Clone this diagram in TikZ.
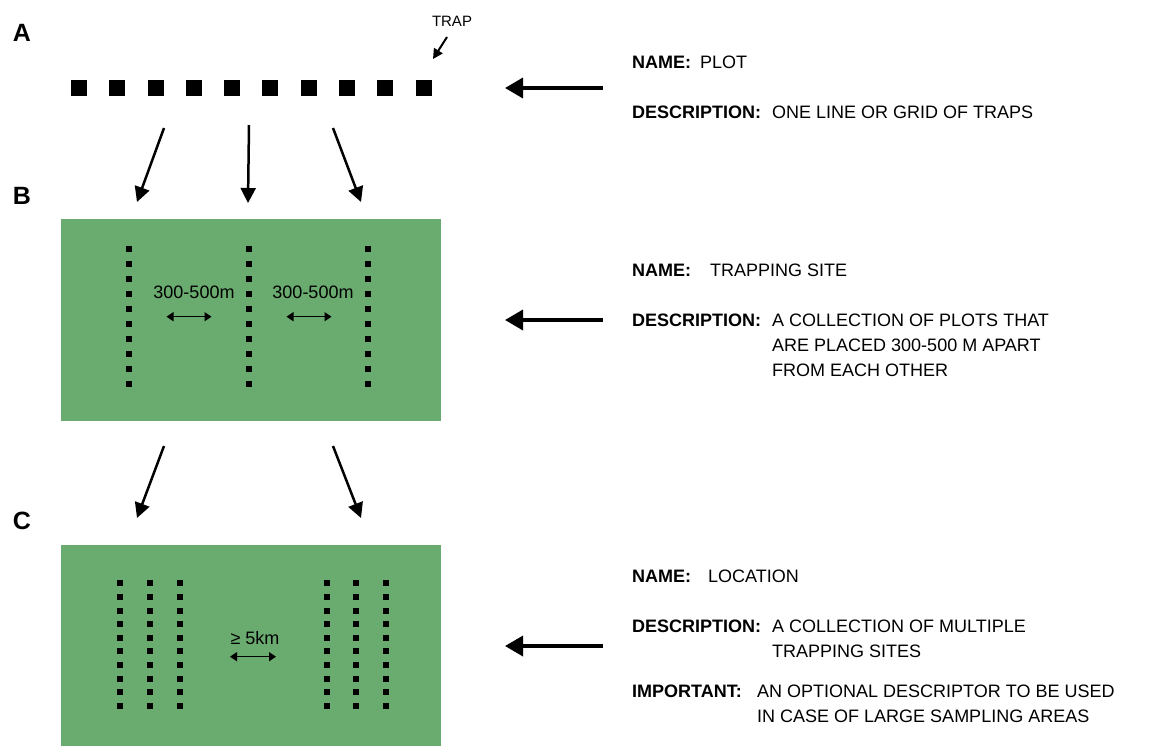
\documentclass[tikz,border=0pt]{standalone}
\usepackage{fontspec}
\setmainfont{Liberation Sans}
\usetikzlibrary{arrows.meta}
\definecolor{fieldgreen}{RGB}{106,171,111}
\begin{document}
\begin{tikzpicture}[x=1pt,y=-1pt,
  lbl/.style={font=\bfseries\fontsize{25}{28}\selectfont, inner sep=0},
  key/.style={anchor=base west, inner sep=0, font=\bfseries\fontsize{18}{20}\selectfont},
  val/.style={anchor=base west, inner sep=0, font=\fontsize{18}{20}\selectfont},
  trapA/.style={fill=black, minimum size=16pt, inner sep=0},
  flow/.style={line width=2.5pt, -{Triangle[length=15pt,width=15pt]}},
  point/.style={line width=3.5pt, -{Triangle[length=18pt,width=20pt]}},
  span/.style={line width=1.5pt, {Triangle[length=7pt,width=9pt]}-{Triangle[length=7pt,width=9pt]}},
  dist/.style={inner sep=0, font=\fontsize{18}{20}\selectfont},
  fieldbox/.style={fill=fieldgreen, draw=none, inner sep=0, anchor=north west}
]
\useasboundingbox (0,0) rectangle (1165,745);

% section labels
\node[lbl] (labA) at (22,33) {A};
\node[lbl] (labB) at (22,196) {B};
\node[lbl] (labC) at (22,521) {C};

% A: plot of traps
\foreach \i in {0,...,9} \node[trapA] (t\i) at (79+38.28*\i, 88) {};
\node[inner sep=0, font=\fontsize{15}{18}\selectfont] (traplbl) at (452,21) {TRAP};
\coordinate (trs) at (447,37);
\coordinate (tre) at (433,59);
\draw[line width=2pt, -{Triangle[length=10pt,width=10pt]}] (trs) -- (tre);

% arrows A -> B
\coordinate (ab1s) at (164,128); \coordinate (ab1e) at (137,202);
\coordinate (ab2s) at (249,125); \coordinate (ab2e) at (248,203);
\coordinate (ab3s) at (333,128); \coordinate (ab3e) at (361,202);
\draw[flow] (ab1s) -- (ab1e);
\draw[flow] (ab2s) -- (ab2e);
\draw[flow] (ab3s) -- (ab3e);

% B: trapping site
\node[fieldbox, minimum width=380pt, minimum height=202pt] (siteB) at (61,219) {};
\foreach \x in {129,248.5,368}
  \foreach \i in {0,...,9}
    \fill (\x-3, 249+15*\i-3) rectangle ++(6,6);
\node[dist] (dB1) at (194,292) {300-500m};
\node[dist] (dB2) at (313,292) {300-500m};
\coordinate (sB1a) at (166.5,316.7); \coordinate (sB1b) at (211.5,316.7);
\coordinate (sB2a) at (286.5,316.7); \coordinate (sB2b) at (331.5,316.7);
\draw[span] (sB1a) -- (sB1b);
\draw[span] (sB2a) -- (sB2b);

% arrows B -> C
\coordinate (bc1s) at (164,446); \coordinate (bc1e) at (137,518);
\coordinate (bc2s) at (333,446); \coordinate (bc2e) at (361,518);
\draw[flow] (bc1s) -- (bc1e);
\draw[flow] (bc2s) -- (bc2e);

% C: location
\node[fieldbox, minimum width=380pt, minimum height=201pt] (siteC) at (61,545) {};
\foreach \x in {120,149.5,179.5,326.5,356,386}
  \foreach \i in {0,...,9}
    \fill (\x-3, 583.3+13.63*\i-3) rectangle ++(6,6);
\node[dist] (dC) at (255,638) {≥ 5km};
\coordinate (sCa) at (230,656.7); \coordinate (sCb) at (276,656.7);
\draw[span] (sCa) -- (sCb);

% pointing arrows
\coordinate (pAs) at (603,88);  \coordinate (pAe) at (505,88);
\coordinate (pBs) at (603,320); \coordinate (pBe) at (505,320);
\coordinate (pCs) at (603,646); \coordinate (pCe) at (505,646);
\draw[point] (pAs) -- (pAe);
\draw[point] (pBs) -- (pBe);
\draw[point] (pCs) -- (pCe);

% descriptions A
\node[key] (nA) at (632,68.5) {NAME:};
\node[val] (nAv) at (700,68.5) {PLOT};
\node[key] (dA) at (632,118.5) {DESCRIPTION:};
\node[val] (dAv) at (772,118.5) {ONE LINE OR GRID OF TRAPS};

% descriptions B
\node[key] (nB) at (632,276.5) {NAME:};
\node[val] (nBv) at (710,276.5) {TRAPPING SITE};
\node[key] (dB) at (632,326.5) {DESCRIPTION:};
\node[val] (dBv1) at (772,326.5) {A COLLECTION OF PLOTS THAT};
\node[val] (dBv2) at (772,351.5) {ARE PLACED 300-500 M APART};
\node[val] (dBv3) at (772,376.5) {FROM EACH OTHER};

% descriptions C
\node[key] (nC) at (632,582) {NAME:};
\node[val] (nCv) at (708,582) {LOCATION};
\node[key] (dC) at (632,632) {DESCRIPTION:};
\node[val] (dCv1) at (772,632) {A COLLECTION OF MULTIPLE};
\node[val] (dCv2) at (772,657) {TRAPPING SITES};
\node[key] (iC) at (632,697) {IMPORTANT:};
\node[val] (iCv1) at (757,697) {AN OPTIONAL DESCRIPTOR TO BE USED};
\node[val] (iCv2) at (757,722) {IN CASE OF LARGE SAMPLING AREAS};
\end{tikzpicture}
\end{document}
